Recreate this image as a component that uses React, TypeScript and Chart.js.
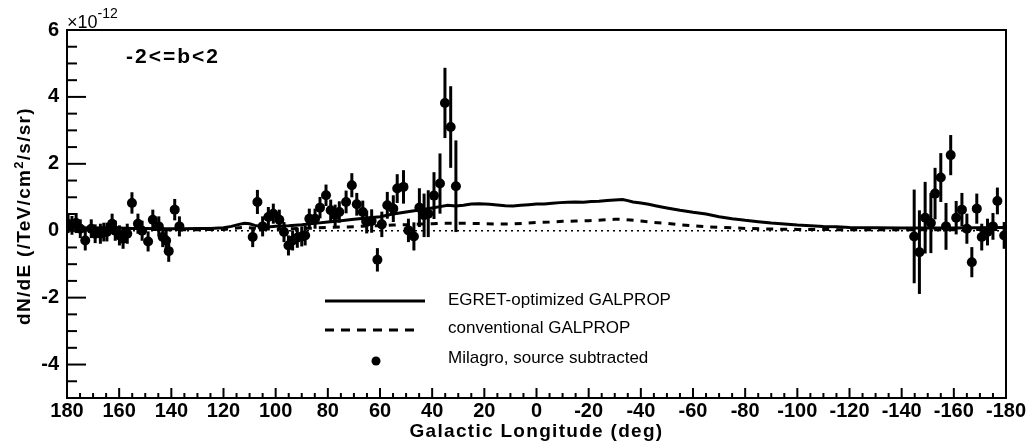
import React, { useEffect, useRef } from "react";
import { Chart, registerables } from "chart.js";

Chart.register(...registerables);

// Milagro, source subtracted — flux in units of 1e-12 /TeV/cm^2/s/sr
const MILAGRO_L = [
  179.6, 178.1, 176.5, 174.9, 173.0, 170.7, 169.2, 167.2, 165.9, 164.7, 162.7, 161.5, 159.9,
  158.5, 156.9, 155.1, 152.8, 151.2, 148.9, 147.1, 144.8, 143.3, 142.0, 141.0, 138.7, 136.9,
  108.8, 107.0, 105.0, 102.8, 100.9, 98.6, 96.8, 95.1, 93.5, 91.7, 90.0, 88.7, 87.1, 84.9,
  83.0, 80.7, 78.9, 77.2, 75.6, 73.0, 70.8, 68.9, 66.6, 65.1, 63.2, 61.0, 59.3, 57.2, 54.9,
  53.4, 51.0, 49.1, 47.0, 44.9, 43.1, 41.5, 39.3, 37.0, 35.1, 32.9, 30.9,
  -144.8, -146.8, -149.0, -151.2, -152.8, -155.0, -157.0, -158.8, -160.9, -163.1, -165.0,
  -166.9, -168.8, -170.7, -172.9, -175.0, -176.7, -179.3,
];
const MILAGRO_FLUX = [
  0.21, 0.16, 0.23, 0.06, -0.29, 0.06, -0.09, -0.09, -0.04, -0.04, 0.21, 0.0, -0.14,
  -0.24, -0.09, 0.83, 0.21, 0.0, -0.32, 0.33, 0.13, -0.19, -0.29, -0.61, 0.63, 0.13,
  -0.19, 0.86, 0.13, 0.41, 0.51, 0.33, -0.04, -0.44, -0.29, -0.21, -0.17, -0.14, 0.36, 0.36,
  0.69, 1.06, 0.61, 0.46, 0.56, 0.86, 1.36, 0.79, 0.56, 0.26, 0.29, -0.87, 0.19, 0.76, 0.66,
  1.26, 1.31, 0.01, -0.17, 0.69, 0.46, 0.51, 1.05, 1.41, 3.82, 3.1, 1.33,
  -0.17, -0.64, 0.39, 0.23, 1.11, 1.59, 0.13, 2.26, 0.39, 0.63, 0.06,
  -0.94, 0.66, -0.19, -0.04, 0.13, 0.89, -0.14,
];
const MILAGRO_ERR = [
  0.28, 0.28, 0.3, 0.28, 0.3, 0.28, 0.28, 0.3, 0.28, 0.28, 0.3, 0.3, 0.3,
  0.3, 0.3, 0.32, 0.3, 0.3, 0.3, 0.3, 0.3, 0.3, 0.32, 0.32, 0.32, 0.3,
  0.3, 0.36, 0.3, 0.3, 0.3, 0.3, 0.3, 0.3, 0.3, 0.3, 0.3, 0.3, 0.3, 0.3,
  0.32, 0.32, 0.32, 0.32, 0.32, 0.34, 0.36, 0.34, 0.34, 0.34, 0.35, 0.35, 0.38, 0.4, 0.4,
  0.43, 0.5, 0.35, 0.42, 0.58, 0.65, 0.7, 0.7, 0.9, 1.05, 1.22, 1.37,
  1.4, 1.25, 1.07, 0.9, 0.77, 0.73, 0.7, 0.6, 0.5, 0.5, 0.45,
  0.45, 0.45, 0.4, 0.4, 0.4, 0.4, 0.4,
];

// EGRET-optimized GALPROP (solid)
const EGRET_L = [
  180, 175, 170, 165, 160, 155, 150, 145, 140, 135, 130, 125, 120, 117, 114, 112, 110, 108,
  105, 102, 99, 95, 90, 85, 80, 75, 70, 65, 60, 55, 50, 45, 40, 37, 34, 31, 28, 25, 22, 18,
  15, 12, 9, 6, 3, 0, -3, -6, -9, -12, -15, -18, -21, -24, -27, -30, -33, -35, -37, -40,
  -43, -46, -50, -55, -60, -65, -70, -75, -80, -85, -90, -95, -100, -105, -110, -115, -120,
  -130, -140, -150, -160, -170, -180,
];
const EGRET_FLUX = [
  0.1, 0.09, 0.08, 0.09, 0.08, 0.07, 0.07, 0.06, 0.06, 0.06, 0.07, 0.07, 0.09, 0.13, 0.19,
  0.22, 0.21, 0.16, 0.12, 0.12, 0.14, 0.15, 0.18, 0.22, 0.26, 0.3, 0.34, 0.38, 0.42, 0.5,
  0.56, 0.62, 0.68, 0.72, 0.76, 0.74, 0.76, 0.8, 0.81, 0.79, 0.77, 0.75, 0.74, 0.76, 0.78,
  0.8, 0.8, 0.82, 0.84, 0.85, 0.86, 0.85, 0.87, 0.88, 0.9, 0.92, 0.93, 0.9, 0.86, 0.83,
  0.79, 0.74, 0.68, 0.61, 0.55, 0.5, 0.42, 0.36, 0.31, 0.27, 0.23, 0.2, 0.17, 0.15, 0.13,
  0.12, 0.1, 0.09, 0.08, 0.08, 0.08, 0.09, 0.1,
];

// conventional GALPROP (dashed)
const CONV_L = [
  180, 170, 160, 150, 140, 130, 120, 115, 112, 109, 105, 100, 95, 90, 85, 80, 75, 70, 65,
  60, 55, 50, 45, 40, 35, 30, 25, 20, 15, 10, 5, 0, -5, -10, -15, -20, -25, -30, -33, -36,
  -40, -45, -50, -55, -60, -65, -70, -80, -90, -100, -120, -140, -160, -180,
];
const CONV_FLUX = [
  0.05, 0.05, 0.04, 0.04, 0.03, 0.03, 0.04, 0.08, 0.1, 0.08, 0.05, 0.05, 0.06, 0.07, 0.08,
  0.1, 0.11, 0.12, 0.14, 0.15, 0.17, 0.18, 0.2, 0.21, 0.22, 0.22, 0.22, 0.21, 0.2, 0.2,
  0.22, 0.25, 0.26, 0.28, 0.29, 0.3, 0.32, 0.34, 0.34, 0.32, 0.29, 0.25, 0.22, 0.18, 0.15,
  0.12, 0.1, 0.07, 0.05, 0.04, 0.03, 0.03, 0.03, 0.04,
];

const ZERO_L = [180, -180];
const ZERO_FLUX = [0, 0];

const X_TICKS = [180, 160, 140, 120, 100, 80, 60, 40, 20, 0, -20, -40, -60, -80, -100, -120, -140, -160, -180];
const Y_TICKS = [-4, -2, 0, 2, 4, 6];

const LEGEND_LABELS = ["EGRET-optimized GALPROP", "conventional GALPROP", "Milagro, source subtracted"];
const REGION_LABEL = "-2<=b<2";
const X_TITLE = "Galactic Longitude (deg)";

const SANS = '"Liberation Sans", Arial, Helvetica, sans-serif';

const decorPlugin = {
  id: "decor",
  afterDatasetsDraw(chart: any) {
    const { ctx, scales } = chart;
    const x = scales.x;
    const y = scales.y;
    ctx.save();
    ctx.strokeStyle = "#000";
    ctx.lineWidth = 3;
    ctx.lineCap = "butt";
    MILAGRO_L.forEach((l, i) => {
      const px = x.getPixelForValue(l);
      const y1 = y.getPixelForValue(MILAGRO_FLUX[i] - MILAGRO_ERR[i]);
      const y2 = y.getPixelForValue(MILAGRO_FLUX[i] + MILAGRO_ERR[i]);
      ctx.beginPath();
      ctx.moveTo(px, y1);
      ctx.lineTo(px, y2);
      ctx.stroke();
    });
    ctx.restore();
  },
  afterDraw(chart: any) {
    const { ctx, chartArea: a, scales } = chart;
    const x = scales.x;
    const y = scales.y;
    ctx.save();
    ctx.strokeStyle = "#000";
    ctx.fillStyle = "#000";
    // frame
    ctx.lineWidth = 2;
    ctx.strokeRect(a.left, a.top, a.right - a.left, a.bottom - a.top);
    // x ticks (inside, from bottom)
    for (let v = 180; v >= -180; v -= 5) {
      const px = x.getPixelForValue(v);
      const len = v % 20 === 0 ? 10 : 5;
      ctx.beginPath();
      ctx.moveTo(px, a.bottom);
      ctx.lineTo(px, a.bottom - len);
      ctx.stroke();
    }
    // y ticks (inside, from left)
    for (let k = -10; k <= 12; k++) {
      const v = k / 2;
      const py = y.getPixelForValue(v);
      const len = Number.isInteger(v) && v % 2 === 0 ? 19 : 10;
      ctx.beginPath();
      ctx.moveTo(a.left, py);
      ctx.lineTo(a.left + len, py);
      ctx.stroke();
    }

    // x10^-12 exponent
    ctx.textBaseline = "alphabetic";
    ctx.textAlign = "left";
    ctx.font = `18px ${SANS}`;
    ctx.fillText("\u00d710", a.left, 28);
    const w10 = ctx.measureText("\u00d710").width;
    ctx.font = `14px ${SANS}`;
    ctx.fillText("-12", a.left + w10, 18);

    // region label
    ctx.font = `bold 21px ${SANS}`;
    (ctx as any).letterSpacing = "2px";
    ctx.fillText(REGION_LABEL, 126, 63);

    // x axis title
    ctx.font = `bold 19px ${SANS}`;
    (ctx as any).letterSpacing = "1.3px";
    ctx.textAlign = "center";
    ctx.fillText(X_TITLE, (a.left + a.right) / 2, 437);

    // y axis title (rotated, with superscript)
    ctx.save();
    ctx.translate(30, 216);
    ctx.rotate(-Math.PI / 2);
    ctx.textAlign = "left";
    const p1 = "dN/dE (/TeV/cm";
    const p2 = "2";
    const p3 = "/s/sr)";
    ctx.font = `bold 19px ${SANS}`;
    const w1 = ctx.measureText(p1).width;
    const w3 = ctx.measureText(p3).width;
    ctx.font = `bold 13px ${SANS}`;
    const w2 = ctx.measureText(p2).width;
    const total = w1 + w2 + w3;
    let cx = -total / 2;
    ctx.font = `bold 19px ${SANS}`;
    ctx.fillText(p1, cx, 0);
    cx += w1;
    ctx.font = `bold 13px ${SANS}`;
    ctx.fillText(p2, cx, -7);
    cx += w2;
    ctx.font = `bold 19px ${SANS}`;
    ctx.fillText(p3, cx, 0);
    ctx.restore();
    (ctx as any).letterSpacing = "0px";

    // legend
    ctx.lineWidth = 3;
    ctx.beginPath();
    ctx.moveTo(325, 301);
    ctx.lineTo(425, 301);
    ctx.stroke();
    ctx.setLineDash([9, 7]);
    ctx.beginPath();
    ctx.moveTo(325, 330);
    ctx.lineTo(420, 330);
    ctx.stroke();
    ctx.setLineDash([]);
    ctx.beginPath();
    ctx.arc(376, 361, 4.5, 0, Math.PI * 2);
    ctx.fill();
    ctx.font = `17px ${SANS}`;
    ctx.textAlign = "left";
    ctx.fillText(LEGEND_LABELS[0], 448, 305);
    ctx.fillText(LEGEND_LABELS[1], 448, 333);
    ctx.fillText(LEGEND_LABELS[2], 448, 363);
    ctx.restore();
  },
};

export default function App() {
  const ref = useRef<HTMLCanvasElement | null>(null);
  useEffect(() => {
    const canvas = ref.current;
    if (!canvas) return;
    const tickFont = { family: SANS, size: 20, weight: "bold" as const };
    const chart = new Chart(canvas, {
      type: "scatter",
      data: {
        datasets: [
          {
            label: LEGEND_LABELS[2],
            data: MILAGRO_L.map((l, i) => ({ x: l, y: MILAGRO_FLUX[i] })),
            showLine: false,
            pointRadius: 5,
            pointBackgroundColor: "#000",
            pointBorderWidth: 0,
            pointBorderColor: "#000",
          },
          {
            label: LEGEND_LABELS[0],
            data: EGRET_L.map((l, i) => ({ x: l, y: EGRET_FLUX[i] })),
            showLine: true,
            borderColor: "#000",
            borderWidth: 3,
            pointRadius: 0,
            tension: 0,
          },
          {
            label: LEGEND_LABELS[1],
            data: CONV_L.map((l, i) => ({ x: l, y: CONV_FLUX[i] })),
            showLine: true,
            borderColor: "#000",
            borderWidth: 3,
            borderDash: [7, 7],
            pointRadius: 0,
            tension: 0,
          },
          {
            label: "zero",
            data: ZERO_L.map((l, i) => ({ x: l, y: ZERO_FLUX[i] })),
            showLine: true,
            borderColor: "#000",
            borderWidth: 1.5,
            borderDash: [2, 4],
            pointRadius: 0,
          },
        ],
      },
      options: {
        responsive: false,
        animation: false,
        devicePixelRatio: 1,
        events: [],
        layout: { padding: { top: 30, right: 21, left: 0, bottom: 0 } },
        plugins: { legend: { display: false }, tooltip: { enabled: false } },
        scales: {
          x: {
            type: "linear",
            reverse: true,
            min: -180,
            max: 180,
            grid: { display: false, drawTicks: false },
            border: { display: false },
            afterBuildTicks: (s: any) => {
              s.ticks = X_TICKS.map((v) => ({ value: v }));
            },
            afterFit: (s: any) => {
              s.height = 45;
              s.paddingLeft = 0;
              s.paddingRight = 0;
            },
            ticks: {
              autoSkip: false,
              maxRotation: 0,
              minRotation: 0,
              padding: 1,
              color: "#000",
              font: tickFont,
              callback: (v: any) => String(v),
            },
          },
          y: {
            type: "linear",
            min: -5,
            max: 6,
            grid: { display: false, drawTicks: false },
            border: { display: false },
            afterBuildTicks: (s: any) => {
              s.ticks = Y_TICKS.map((v) => ({ value: v }));
            },
            afterFit: (s: any) => {
              s.width = 67;
              s.paddingTop = 0;
              s.paddingBottom = 0;
            },
            ticks: {
              padding: 8,
              color: "#000",
              font: tickFont,
              callback: (v: any) => String(v),
            },
          },
        },
      },
      plugins: [decorPlugin],
    });
    return () => chart.destroy();
  }, []);
  return (
    <div style={{ position: "absolute", left: 0, top: 0, width: 1027, height: 443, background: "#fff" }}>
      <canvas ref={ref} width={1027} height={443} style={{ display: "block", width: 1027, height: 443 }} />
    </div>
  );
}
